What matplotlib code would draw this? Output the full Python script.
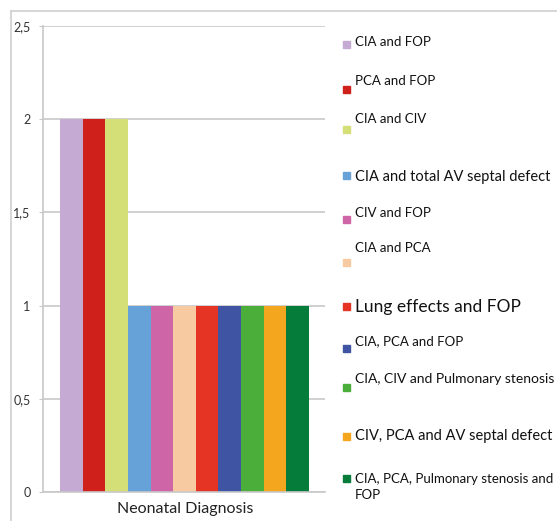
import matplotlib.pyplot as plt
from matplotlib.patches import Rectangle
from matplotlib.lines import Line2D

plt.rcParams['font.family'] = ['Lato', 'DejaVu Sans']

# Data
categories = ["CIA and FOP", "PCA and FOP", "CIA and CIV",
              "CIA and total AV septal defect", "CIV and FOP", "CIA and PCA",
              "Lung effects and FOP", "CIA, PCA and FOP",
              "CIA, CIV and Pulmonary stenosis",
              "CIV, PCA and AV septal defect",
              "CIA, PCA, Pulmonary stenosis and\nFOP"]
counts = [2, 2, 2, 1, 1, 1, 1, 1, 1, 1, 1]
colors = ["#C5AAD4", "#D0201B", "#D5DF77", "#66A2D8", "#CD65A6", "#F8CAA1",
          "#E63424", "#3F55A3", "#4CAE3A", "#F5A61F", "#057C39"]
yticks = [0, 0.5, 1, 1.5, 2, 2.5]
ytick_labels = ["0", "0,5", "1", "1,5", "2", "2,5"]

W, H = 557, 521
fig = plt.figure(figsize=(W / 100, H / 100), dpi=100)
ax = fig.add_axes([43 / W, 1 - 492 / H, (325 - 43) / W, (492 - 26) / H])

ax.bar(range(len(counts)), counts, width=1.0, color=colors, edgecolor='none',
       zorder=2)
ax.set_xlim(-0.75 - 0.5, 10.5 + 0.71)
ax.set_ylim(0, 2.5)
ax.set_yticks(yticks)
ax.set_yticklabels(ytick_labels, fontsize=9, color='#333333')
ax.set_xticks([])
ax.yaxis.grid(True, color='#C8C8C8', lw=1.2, zorder=0)
ax.tick_params(axis='y', length=3, color='#C8C8C8', pad=6)
for s in ['top', 'right']:
    ax.spines[s].set_visible(False)
ax.spines['left'].set_color('#C8C8C8')
ax.spines['bottom'].set_color('#C8C8C8')
ax.spines['left'].set_linewidth(1.2)
ax.spines['bottom'].set_linewidth(1.2)

fig.text(185 / W, 1 - 509 / H, "Neonatal Diagnosis", ha='center', va='center',
         fontsize=11.5, color='#222222')

# outer chart frame
fig.add_artist(Line2D([11 / W, 1], [1 - 11 / H] * 2, color='#CFCFCF', lw=1.2))
fig.add_artist(Line2D([11 / W] * 2, [0, 1 - 11 / H], color='#CFCFCF', lw=1.2))

# legend, placed by hand
marker_y = [44, 89, 129, 175, 219, 262, 306, 348, 387, 436, 478]
text_y = [42, 81, 119, 177, 213, 248, 307, 341, 379, 436, 487]
text_size = [9.5, 9.5, 9.5, 10.5, 9.5, 9.5, 12.5, 9.5, 10, 10.5, 9.5]
for lab, c, my, ty, fs in zip(categories, colors, marker_y, text_y, text_size):
    fig.add_artist(Rectangle((343 / W, 1 - (my + 4) / H), 7 / W, 7 / H,
                             color=c, transform=fig.transFigure))
    fig.text(355 / W, 1 - ty / H, lab, ha='left', va='center', fontsize=fs,
             color='#111111', linespacing=1.4)

fig.savefig("out.png", dpi=100)
